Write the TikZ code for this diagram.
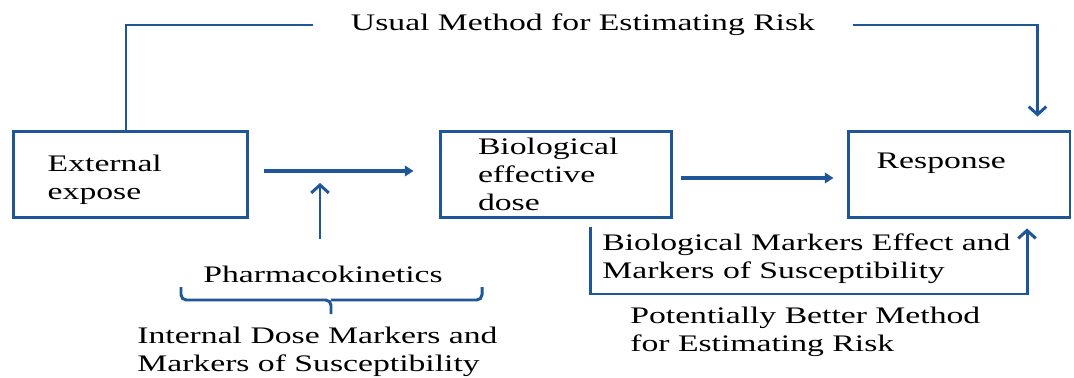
\documentclass[tikz,border=0pt]{standalone}
\usepackage{fontspec}
\setmainfont{Liberation Serif}[FakeStretch=1.42]
\usetikzlibrary{arrows.meta}
\definecolor{flowblue}{RGB}{30,86,152}

\begin{document}
\begin{tikzpicture}[x=0.02cm,y=-0.02cm,
    every node/.style={font=\fontsize{13.5}{16}\selectfont},
    box/.style={draw=flowblue,line width=1.7pt,minimum height=1.74cm,align=left},
    flow/.style={draw=flowblue,line width=2.4pt,-{Triangle[length=5pt,width=6pt]}},
    link/.style={draw=flowblue,line width=1.7pt},
    pk/.style={link,-{Straight Barb[length=4.5pt,width=10pt]}}]
        \useasboundingbox (0,0) rectangle (1074,378);

        % the three stages
        \node[box,minimum width=4.7cm,
              label={[anchor=west,align=left,xshift=0.6cm,yshift=-0.1cm]west:External\\expose}] (ext) at (130.5,174.5) {};
        \node[box,inner xsep=0.76cm,text width=3.12cm] (bio) at (556,174.5)
            {Biological\\effective\\dose};
        \node[box,minimum width=4.44cm,
              label={[anchor=west,xshift=0.48cm,yshift=0.22cm]west:Response}] (resp) at (959,174.5) {};

        % dose flows from one stage to the next
        \draw[flow,shorten <=0.3cm,shorten >=0.5cm] ([yshift=0.07cm]ext.east) -- ([yshift=0.07cm]bio.west);
        \draw[flow,shorten <=0.16cm,shorten >=0.26cm] ([yshift=-0.07cm]bio.east) -- ([yshift=-0.07cm]resp.west);

        % usual method goes straight across the top
        \node[inner xsep=0.75cm] (usual) at (583,25) {Usual Method for Estimating Risk};
        \draw[link] (ext.north -| 126,0) |- (usual.west);
        \draw[pk,shorten >=0.26cm] (usual.east) -| ([xshift=-0.68cm]resp.north east);

        % pharmacokinetics and the internal dose markers
        \node (kin) at (323,274) {Pharmacokinetics};
        \coordinate (join) at (320,183);
        \draw[pk] (kin.north -| join) ++(0,-20) -- (join);
        \coordinate (bl) at (181,287);
        \coordinate (br) at (482,287);
        \coordinate (mid) at (331,300);
        \coordinate (tip) at (331,314);
        \draw[link,rounded corners=3pt] (bl) |- (mid) -- (tip);
        \draw[link,rounded corners=3pt] (br) |- (mid);
        \node[anchor=west,align=left,inner xsep=0pt] (internal) at (137,352)
            {Internal Dose Markers and\\Markers of Susceptibility};

        % potentially better method goes round the bottom
        \node[anchor=west,align=left,inner xsep=0pt] (effect) at (602,259)
            {Biological Markers Effect and\\Markers of Susceptibility};
        \coordinate (start) at (590,227);
        \coordinate (corner) at (1027,294);
        \draw[pk,shorten >=0.18cm] (start) |- (corner) -- (corner |- resp.south);
        \node[anchor=west,align=left,inner xsep=0pt] (better) at (630,332)
            {Potentially Better Method\\for Estimating Risk};
\end{tikzpicture}
\end{document}
